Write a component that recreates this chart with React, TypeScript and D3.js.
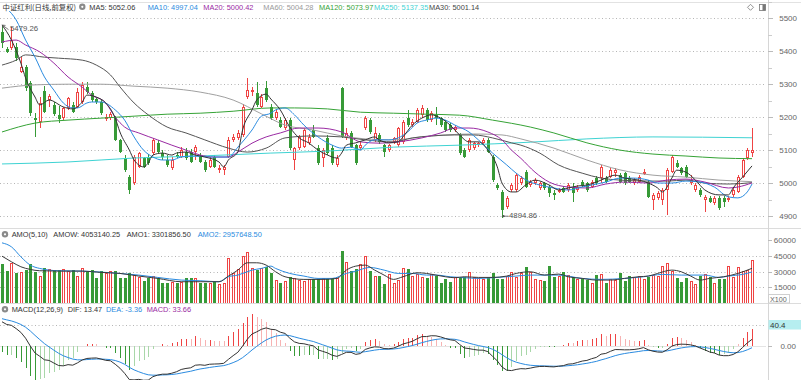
import React from "react";
import * as d3 from "d3";

// ---------- DATA ----------
const OPEN = [
  5459,5406,5409,5414,5338,5353,5303,5198,5186,5280,
  5252,5237,5207,5197,5227,5237,5232,5247,5292,5272,
  5254,5247,5194,5197,5197,5131,5075,5019,4999,5050,
  5076,5080,5090,5121,5090,5070,5045,5085,5080,5095,
  5095,5095,5080,5065,5050,5080,5040,5040,5080,5131,
  5136,5146,5262,5277,5272,5232,5288,5232,5197,5191,
  5166,5191,5070,5105,5110,5121,5161,5105,5075,5136,
  5105,5055,5288,5136,5151,5115,5105,5166,5191,5131,
  5146,5115,5100,5126,5115,5126,5197,5176,5186,5207,
  5222,5191,5207,5197,5186,5176,5161,5146,5100,5100,
  5105,5115,5121,5131,5080,4994,4974,4928,4979,4979,
  5000,5034,4994,5000,4984,4999,4989,4969,4974,4984,
  4979,4984,4979,5004,4999,4989,5014,5014,5014,5019,
  5030,5024,5030,5014,4999,5004,5030,5004,4949,4954,
  4949,4979,5034,5060,5045,5050,4999,4979,4979,4949,
  4954,4938,4954,4954,4949,4964,4974,5019,5075,5090,
];
const HIGH = [
  5479.26,5414,5475,5425,5383,5358,5310,5212,5262,5296,
  5270,5245,5234,5232,5262,5245,5288,5308,5308,5280,
  5262,5252,5210,5215,5205,5134,5085,5024,5085,5095,
  5080,5088,5137,5131,5100,5085,5080,5095,5110,5105,
  5103,5115,5090,5070,5080,5085,5055,5055,5140,5150,
  5160,5240,5318,5292,5308,5270,5311,5240,5225,5200,
  5197,5197,5110,5146,5166,5150,5176,5115,5105,5146,
  5115,5085,5292,5167,5158,5120,5125,5205,5197,5171,
  5151,5120,5120,5141,5170,5190,5222,5195,5228,5237,
  5228,5218,5232,5200,5191,5181,5176,5151,5105,5136,
  5126,5126,5136,5136,5085,5000,4979,4960,5000,5030,
  5020,5040,5010,5015,5004,5004,4994,4979,4985,4990,
  5000,4999,4994,5010,5004,5010,5020,5055,5020,5045,
  5045,5030,5035,5020,5015,5025,5042,5009,4970,4975,
  4984,5045,5085,5070,5050,5055,5024,5000,4985,4965,
  4960,4960,4960,4960,4960,4985,5025,5075,5105,5166,
];
const LOW = [
  5410,5394,5404,5370,5333,5280,5205,5141,5166,5212,
  5232,5205,5181,5191,5222,5212,5228,5240,5270,5247,
  5240,5208,5188,5192,5128,5090,5035,4967,4994,5045,
  5045,5055,5085,5090,5070,5049,5040,5075,5075,5070,
  5060,5070,5060,5035,5045,5045,5030,5024,5075,5125,
  5131,5140,5255,5265,5232,5228,5247,5192,5192,5166,
  5160,5100,5040,5100,5105,5115,5136,5055,5050,5085,
  5055,5050,5136,5131,5105,5055,5100,5160,5150,5125,
  5120,5080,5095,5120,5110,5120,5171,5171,5181,5197,
  5186,5186,5176,5171,5156,5156,5156,5085,5075,5095,
  5100,5110,5115,5090,5004,4979,4894.86,4920,4974,4974,
  4994,4984,4989,4994,4979,4979,4958,4949,4969,4969,
  4974,4943,4974,4989,4974,4984,4994,4999,4999,5014,
  5019,4999,4994,4999,4994,4999,5024,4954,4918,4949,
  4933,4903,5030,5045,5024,5014,4994,4974,4959,4913,
  4938,4933,4918,4928,4943,4959,4969,5014,5070,5080,
];
const CLOSE = [
  5424,5399,5434,5379,5353,5288,5212,5191,5242,5216,
  5264,5209,5194,5227,5257,5216,5277,5298,5277,5252,
  5247,5213,5201,5209,5131,5095,5040,4979,5080,5090,
  5049,5060,5131,5095,5080,5055,5070,5080,5100,5075,
  5065,5110,5065,5040,5070,5050,5045,5050,5131,5141,
  5151,5232,5282,5282,5237,5262,5252,5197,5217,5171,
  5191,5105,5105,5141,5161,5141,5141,5060,5100,5090,
  5060,5075,5141,5151,5110,5060,5115,5197,5156,5151,
  5125,5095,5115,5136,5166,5186,5176,5186,5222,5227,
  5191,5212,5197,5176,5161,5161,5171,5090,5080,5131,
  5121,5121,5131,5095,5009,4984,4918,4954,4994,5024,
  5015,4989,5004,5009,4999,4984,4969,4964,4979,4974,
  4994,4969,4989,4994,4979,5004,4999,5050,5004,5040,
  5040,5004,4999,5004,5009,5019,5034,4959,4964,4969,
  4979,5040,5080,5050,5030,5019,5009,4994,4964,4959,
  4943,4954,4923,4943,4954,4979,5019,5070,5100,5100,
];
// amount, in units of x100
const AMOUNT = [
  37030,30380,37660,28170,29750,31330,37030,29750,25950,32920,
  31970,31330,31330,31970,30700,31330,25640,32920,29750,31330,
  24050,30380,28170,30380,30380,24050,24050,28170,26590,24370,
  20890,23420,25950,23420,19310,19310,20260,19310,20260,23420,
  23420,23420,19310,19310,18670,20260,18040,18670,42410,28170,
  31970,44630,48740,32920,31330,32920,34500,28170,21840,19310,
  21210,24370,23420,21840,21210,22470,22470,22470,23420,22470,
  23420,23420,49690,38610,30700,31970,37030,44630,30380,25640,
  25640,18040,27540,19310,21840,32920,31970,25640,27220,24370,
  24050,27540,25640,19310,22470,20260,25000,23420,24370,29120,
  25000,23420,22470,23420,28170,22470,22470,25640,29750,25000,
  28170,34500,29750,22470,21840,21210,35130,24370,25640,29120,
  26590,25000,22470,22470,21840,19310,26590,27220,19310,22470,
  21840,28170,21210,25640,25000,25640,22470,25000,26590,25640,
  35130,37660,30380,24050,20260,24050,21210,18040,25640,27540,
  24370,18670,22470,22470,35130,24370,33870,30700,31330,40531,
];

// moving-average lines, as [candle index, value]
const MA5: [number, number][] = [[0,5480],[2,5434],[4,5364],[5,5319],[7,5261],[8,5237],[10,5252],[13,5231],[15,5225],[17,5246],[18,5267],[20,5261],[22,5243],[24,5197],[25,5155],[27,5100],[28,5070],[29,5055],[30,5049],[31,5061],[32,5085],[34,5091],[36,5085],[37,5091],[39,5094],[41,5085],[43,5079],[46,5064],[47,5049],[48,5070],[50,5094],[51,5161],[53,5222],[54,5252],[56,5270],[57,5255],[59,5222],[61,5170],[63,5137],[65,5122],[67,5100],[69,5085],[71,5076],[72,5091],[73,5115],[75,5122],[77,5131],[79,5140],[80,5131],[82,5122],[84,5125],[85,5140],[87,5176],[89,5197],[91,5207],[93,5197],[95,5176],[97,5146],[99,5125],[101,5125],[103,5100],[105,5049],[106,5000],[108,4973],[109,4973],[111,4994],[113,5009],[116,4994],[118,4979],[120,4985],[122,4991],[124,4994],[126,5003],[128,5015],[130,5024],[132,5015],[135,5009],[137,5000],[139,4985],[140,4973],[142,5015],[143,5039],[145,5033],[147,5009],[149,4979],[152,4964],[154,4964],[155,4985],[157,5018],[159,5052.06]];
const MA10: [number, number][] = [[1,5530],[3,5495],[5,5434],[7,5382],[9,5322],[11,5282],[13,5243],[15,5228],[16,5228],[18,5243],[19,5246],[21,5246],[24,5222],[26,5191],[28,5140],[30,5100],[32,5079],[34,5070],[36,5070],[38,5079],[41,5082],[44,5079],[46,5079],[48,5079],[50,5109],[53,5161],[55,5203],[57,5212],[58,5222],[60,5228],[62,5207],[64,5176],[67,5140],[70,5115],[72,5106],[74,5109],[76,5100],[77,5115],[79,5131],[82,5131],[84,5137],[86,5155],[88,5182],[90,5191],[92,5197],[94,5191],[96,5176],[99,5155],[101,5131],[104,5091],[107,5055],[109,5030],[111,5010],[114,4994],[117,4985],[120,4979],[123,4988],[125,4994],[128,5003],[131,5015],[134,5015],[137,5009],[139,5000],[142,5000],[145,5006],[148,5003],[151,4988],[154,4958],[156,4955],[158,4973],[159,4997.04]];
const MA20: [number, number][] = [[0,5428],[3,5434],[5,5419],[8,5398],[11,5364],[14,5322],[17,5291],[19,5267],[22,5243],[24,5200],[26,5170],[29,5152],[33,5131],[36,5115],[39,5100],[42,5085],[45,5079],[48,5079],[50,5094],[53,5121],[56,5140],[59,5152],[63,5167],[67,5167],[72,5155],[76,5125],[80,5121],[84,5125],[89,5137],[93,5152],[96,5167],[99,5167],[103,5155],[106,5131],[108,5100],[110,5075],[113,5033],[116,5003],[120,4988],[124,4985],[128,4997],[132,5003],[137,5000],[141,5009],[145,5012],[149,5003],[154,4985],[156,4988],[159,5000.42]];
const MA30: [number, number][] = [[0,5358],[3,5373],[5,5389],[9,5382],[12,5379],[17,5373],[20,5358],[23,5328],[25,5292],[28,5243],[31,5207],[35,5170],[39,5152],[43,5131],[48,5106],[52,5094],[56,5106],[60,5137],[66,5143],[72,5140],[77,5131],[83,5125],[87,5137],[91,5143],[96,5146],[100,5146],[104,5137],[108,5122],[110,5115],[114,5091],[118,5055],[123,5030],[127,5015],[131,5009],[137,5006],[141,5006],[145,5009],[149,5000],[154,4997],[159,5001.14]];
const MA60: [number, number][] = [[0,5288],[7,5298],[14,5300],[21,5300],[28,5294],[35,5288],[42,5276],[49,5252],[55,5210],[60,5176],[66,5161],[72,5143],[77,5134],[83,5131],[89,5140],[94,5146],[100,5149],[106,5146],[110,5134],[117,5106],[124,5070],[131,5040],[138,5024],[145,5018],[152,5009],[159,5004.28]];
const MA120: [number, number][] = [[0,5155],[7,5182],[14,5191],[21,5197],[28,5203],[35,5209],[42,5212],[49,5218],[57,5228],[62,5228],[69,5225],[76,5215],[83,5212],[90,5209],[97,5206],[104,5191],[112,5170],[117,5152],[124,5122],[131,5100],[138,5088],[145,5082],[152,5076],[159,5073.97]];
const MA250: [number, number][] = [[0,5058],[14,5064],[28,5076],[42,5082],[57,5091],[69,5097],[83,5109],[97,5115],[112,5124],[124,5134],[138,5140],[159,5137.35]];

const AMO1: [number, number][] = [[0,44600],[2,39250],[4,34500],[6,31970],[8,30700],[12,30380],[17,30380],[21,29120],[25,28170],[29,25640],[33,23420],[38,20260],[42,20260],[46,20260],[48,25640],[50,31330],[52,38300],[54,38300],[56,36080],[58,29750],[60,25000],[64,22470],[68,22470],[71,23420],[73,31330],[75,35130],[77,36080],[79,31330],[81,26590],[83,22470],[85,25000],[88,28800],[90,28170],[92,26590],[94,25000],[96,24050],[98,25000],[101,24370],[104,24370],[107,25640],[109,28170],[112,29750],[115,26590],[118,27540],[120,25000],[123,23420],[126,21840],[129,21840],[132,23420],[135,25000],[137,25640],[139,28170],[142,31330],[144,29750],[146,25640],[148,21840],[150,23420],[153,25000],[156,28170],[159,33018.57]];
const AMO2: [number, number][] = [[0,57290],[2,53490],[4,43990],[6,36080],[8,32920],[12,30700],[17,30380],[21,29430],[25,28170],[29,26590],[33,24370],[38,21840],[42,21210],[46,20260],[48,25000],[50,26590],[53,31330],[55,32920],[57,35130],[58,32920],[61,28170],[64,25640],[67,23420],[70,23420],[73,28170],[75,30380],[78,33870],[81,31330],[84,28170],[87,28170],[90,26590],[92,26590],[95,25000],[98,24050],[101,23420],[104,24050],[107,25000],[109,25640],[112,26590],[118,26590],[123,23420],[127,22470],[132,23420],[136,25000],[140,27220],[144,26590],[149,26590],[152,24370],[154,25640],[157,27220],[159,29576.49]];

// MACD starting state (EMA12, EMA26, DEA before the first visible candle)
const EMA12_START = 5420;
const EMA26_START = 5370;
const DEA_START = 54;

const PRICE_TICKS = [4900, 5000, 5100, 5200, 5300, 5400, 5500];
const AMO_TICKS = [15000, 30000, 45000, 60000];
const MACD_REF = 40.4;

const TITLE = "中证红利(日线,前复权)";
const MA_NAMES = ["MA5", "MA10", "MA20", "MA60", "MA120", "MA250", "MA30"];
const MA_LAST = ["5052.06", "4997.04", "5000.42", "5004.28", "5073.97", "5137.35", "5001.14"];
const AMO_TEXTS = ["AMO(5,10)", "AMOW: 4053140.25", "AMO1: 3301856.50", "AMO2: 2957648.50"];
const MACD_TEXTS = ["MACD(12,26,9)", "DIF: 13.47", "DEA: -3.36", "MACD: 33.66"];
const HIGH_LABEL = "5479.26";
const LOW_LABEL = "4894.86";

// ---------- STYLE ----------
const RED = "#ef4444";
const GREEN = "#379a37";
const PALE_RED = "#f7b3b3";
const PALE_GREEN = "#a9d7a9";
const C_MA5 = "#333333";
const C_MA10 = "#2a8be0";
const C_MA20 = "#9a2aa3";
const C_MA60 = "#a0a0a0";
const C_MA120 = "#36a336";
const C_MA250 = "#3fd3d3";
const C_MA30 = "#555555";
const MA_COLORS = [C_MA5, C_MA10, C_MA20, "#999999", C_MA120, C_MA250, "#444444"];
const FONT = "'Liberation Sans',Arial,'Noto Sans CJK SC',sans-serif";
const HFS = 7.4; // header font size

export default function App() {
  const n = CLOSE.length;
  const x = d3.scaleLinear().domain([0, n - 1]).range([2, 752]);
  const yP = d3.scaleLinear().domain([4900, 5500]).range([216, 18.3]);
  const yV = d3.scaleLinear().domain([0, 60000]).range([303, 240]);
  const yM = d3.scaleLinear().domain([0, MACD_REF]).range([346, 325]);

  // MACD from the closes
  const a12 = 2 / 13, a26 = 2 / 27, a9 = 2 / 10;
  let e12 = EMA12_START, e26 = EMA26_START, dea = DEA_START;
  const DIF: [number, number][] = [];
  const DEA: [number, number][] = [];
  const HIST: number[] = [];
  CLOSE.forEach((c, i) => {
    e12 += a12 * (c - e12);
    e26 += a26 * (c - e26);
    const dif = e12 - e26;
    dea += a9 * (dif - dea);
    DIF.push([i, dif]);
    DEA.push([i, dea]);
    HIST.push(2 * (dif - dea));
  });

  const mk = (ys: d3.ScaleLinear<number, number>) =>
    d3.line<[number, number]>().x(d => x(d[0])).y(d => ys(d[1])).curve(d3.curveMonotoneX);
  const lineP = mk(yP);
  const lineV = mk(yV);
  const lineM = d3.line<[number, number]>().x(d => x(d[0])).y(d => yM(d[1]));

  const px = (i: number) => Math.round(x(i)) + 0.5;
  const gridDash = "1 2.5";

  const maLines: [[number, number][], string][] = [
    [MA250, C_MA250], [MA120, C_MA120], [MA60, C_MA60], [MA30, C_MA30],
    [MA20, C_MA20], [MA10, C_MA10], [MA5, C_MA5],
  ];
  const legendX = [89.3, 147.7, 203.3, 263.3, 319, 374, 429];

  const hiX = px(0), hiY = yP(HIGH[0]);
  const lowIdx = LOW.indexOf(Math.min(...LOW));
  const loX = px(lowIdx), loY = yP(LOW[lowIdx]);

  return (
    <svg width={801} height={380} style={{ position: "fixed", left: 0, top: 0, background: "#fff" }}
      fontFamily={FONT}>
      <defs>
        <clipPath id="cMain"><rect x={0} y={11} width={766} height={217} /></clipPath>
        <clipPath id="cVol"><rect x={0} y={229} width={766} height={74} /></clipPath>
        <clipPath id="cMacd"><rect x={0} y={304} width={766} height={76} /></clipPath>
      </defs>
      <rect x={0} y={0} width={801} height={380} fill="#fff" />

      {/* frame */}
      <line x1={0} x2={801} y1={2.5} y2={2.5} stroke="#e2e2e2" />
      <line x1={0} x2={801} y1={228.5} y2={228.5} stroke="#dcdcdc" />
      <line x1={0} x2={801} y1={303.5} y2={303.5} stroke="#dcdcdc" />
      <line x1={768.5} x2={768.5} y1={0} y2={380} stroke="#d6d6d6" />

      {/* ---------- MAIN PANEL ---------- */}
      {PRICE_TICKS.map(t => (
        <g key={"pg" + t}>
          <line x1={0} x2={766} y1={Math.round(yP(t)) + 0.5} y2={Math.round(yP(t)) + 0.5}
            stroke="#b5b5b5" strokeDasharray={gridDash} />
          <line x1={768} x2={773} y1={Math.round(yP(t)) + 0.5} y2={Math.round(yP(t)) + 0.5} stroke="#bbb" />
          <line x1={768} x2={772} y1={Math.round(yP(t + 50)) + 0.5} y2={Math.round(yP(t + 50)) + 0.5} stroke="#ccc" />
          <text x={797} y={yP(t) + 3} fontSize={8} fill="#666" textAnchor="end">{t}</text>
        </g>
      ))}

      <g clipPath="url(#cMain)">
        {CLOSE.map((c, i) => {
          const o = OPEN[i];
          const up = c >= o;
          const col = up ? RED : GREEN;
          const cx = px(i);
          const top = Math.round(yP(Math.max(o, c)));
          const bot = Math.round(yP(Math.min(o, c)));
          const h = Math.max(bot - top, 1);
          return (
            <g key={"k" + i} shapeRendering="crispEdges">
              <line x1={cx} x2={cx} y1={yP(HIGH[i])} y2={top} stroke={col} />
              <line x1={cx} x2={cx} y1={top + h} y2={yP(LOW[i])} stroke={col} />
              {up ? (
                <rect x={cx - 1} y={top + 0.5} width={2} height={Math.max(h - 1, 0.5)} fill="#fff" stroke={col} />
              ) : (
                <rect x={cx - 1.5} y={top} width={3} height={h} fill={col} />
              )}
            </g>
          );
        })}
        {maLines.map(([d, c], k) => (
          <path key={"ma" + k} d={lineP(d) || ""} fill="none" stroke={c} strokeWidth={1} />
        ))}
      </g>

      {/* high / low markers */}
      <path d={`M${hiX},${hiY} L${hiX + 6},${hiY + 4.5} M${hiX},${hiY} l3,0.3 M${hiX},${hiY} l0.6,3`}
        stroke="#555" fill="none" strokeWidth={0.8} />
      <text x={10} y={31.3} fontSize={7.8} fill="#555">{HIGH_LABEL}</text>
      <line x1={loX} x2={loX + 6} y1={loY - 1.5} y2={loY - 1.5} stroke="#555" strokeWidth={0.8} />
      <circle cx={loX + 1} cy={loY - 1.5} r={1.1} fill="#555" />
      <text x={509} y={218.3} fontSize={7.8} fill="#555">{LOW_LABEL}</text>

      {/* header */}
      <text x={2.5} y={9.8} fontSize={HFS} fill="#333"
        fontFamily="'Noto Sans CJK SC',sans-serif">{TITLE}</text>
      <circle cx={82.3} cy={6.8} r={3.2} fill="#8a8a8a" />
      <circle cx={82.3} cy={6.8} r={1.1} fill="#fff" />
      {MA_NAMES.map((nm, k) => (
        <text key={"lg" + k} x={legendX[k]} y={9.8} fontSize={HFS} fill={MA_COLORS[k]}>{`${nm}: ${MA_LAST[k]}`}</text>
      ))}
      <path d="M750.5,4.3 L753.5,7.3 L750.5,10.3 L747.5,7.3 Z" fill="none" stroke="#777" strokeWidth={0.8} />
      <rect x={759.5} y={4.5} width={6} height={6} fill="none" stroke="#777" strokeWidth={0.8} />
      <rect x={762.5} y={4.5} width={3} height={6} fill="#777" />

      {/* ---------- AMO PANEL ---------- */}
      {AMO_TICKS.map(t => (
        <g key={"vg" + t}>
          {t < 60000 && (
            <line x1={0} x2={766} y1={Math.round(yV(t)) + 0.5} y2={Math.round(yV(t)) + 0.5}
              stroke="#b5b5b5" strokeDasharray={gridDash} />
          )}
          <line x1={768} x2={772} y1={Math.round(yV(t)) + 0.5} y2={Math.round(yV(t)) + 0.5} stroke="#bbb" />
          <text x={796} y={yV(t) + 3} fontSize={8} fill="#666" textAnchor="end">{t}</text>
        </g>
      ))}
      <g clipPath="url(#cVol)">
        {AMOUNT.map((v, i) => {
          const up = CLOSE[i] >= OPEN[i];
          const col = up ? RED : GREEN;
          const cx = px(i);
          const top = Math.round(yV(v));
          const bot = 303;
          return up ? (
            <rect key={"v" + i} x={cx - 1} y={top + 0.5} width={2} height={bot - top} fill="#fff" stroke={col}
              shapeRendering="crispEdges" />
          ) : (
            <rect key={"v" + i} x={cx - 1.5} y={top} width={3} height={bot - top} fill={col}
              shapeRendering="crispEdges" />
          );
        })}
        <path d={lineV(AMO2) || ""} fill="none" stroke={C_MA10} strokeWidth={1} />
        <path d={lineV(AMO1) || ""} fill="none" stroke="#3a3a3a" strokeWidth={1} />
      </g>
      <rect x={768.5} y={294.5} width={21} height={8.5} fill="#fff" stroke="#cfcfcf" />
      <text x={770} y={301.5} fontSize={7.2} fill="#666">X100</text>
      {/* AMO header */}
      <circle cx={5} cy={234.3} r={3.2} fill="#8a8a8a" />
      <circle cx={5} cy={234.3} r={1.1} fill="#fff" />
      {AMO_TEXTS.map((t, k) => (
        <text key={"at" + k} x={[11.7, 53.3, 126.7, 197.7][k]} y={237.3} fontSize={HFS}
          fill={k === 3 ? C_MA10 : "#333"}>{t}</text>
      ))}

      {/* ---------- MACD PANEL ---------- */}
      <line x1={0} x2={766} y1={Math.round(yM(MACD_REF)) + 0.5} y2={Math.round(yM(MACD_REF)) + 0.5}
        stroke="#b5b5b5" strokeDasharray={gridDash} />
      <line x1={0} x2={766} y1={Math.round(yM(0)) + 0.5} y2={Math.round(yM(0)) + 0.5} stroke="#e4e4e4" />
      <g clipPath="url(#cMacd)">
        {HIST.map((h, i) => {
          const prev = i > 0 ? HIST[i - 1] : h;
          const grow = Math.abs(h) >= Math.abs(prev);
          const col = h >= 0 ? (grow ? RED : PALE_RED) : (grow ? GREEN : PALE_GREEN);
          const cx = px(i);
          return <line key={"h" + i} x1={cx} x2={cx} y1={yM(0)} y2={yM(h)} stroke={col} shapeRendering="crispEdges" />;
        })}
        <path d={lineM(DEA) || ""} fill="none" stroke={C_MA10} strokeWidth={1} />
        <path d={lineM(DIF) || ""} fill="none" stroke="#333" strokeWidth={1} />
      </g>
      <rect x={768.5} y={320} width={32.5} height={9.5} fill="#b6eef0" />
      <text x={770} y={327.8} fontSize={8} fill="#333">{MACD_REF}</text>
      <line x1={768} x2={772} y1={Math.round(yM(0)) + 0.5} y2={Math.round(yM(0)) + 0.5} stroke="#bbb" />
      <text x={796} y={yM(0) + 3} fontSize={8} fill="#666" textAnchor="end">0.00</text>
      {/* MACD header */}
      <circle cx={5} cy={309.3} r={3.2} fill="#8a8a8a" />
      <circle cx={5} cy={309.3} r={1.1} fill="#fff" />
      {MACD_TEXTS.map((t, k) => (
        <text key={"mt" + k} x={[11.7, 67.7, 106, 146.7][k]} y={312.3} fontSize={HFS}
          fill={["#333", "#333", C_MA10, C_MA20][k]}>{t}</text>
      ))}
    </svg>
  );
}
